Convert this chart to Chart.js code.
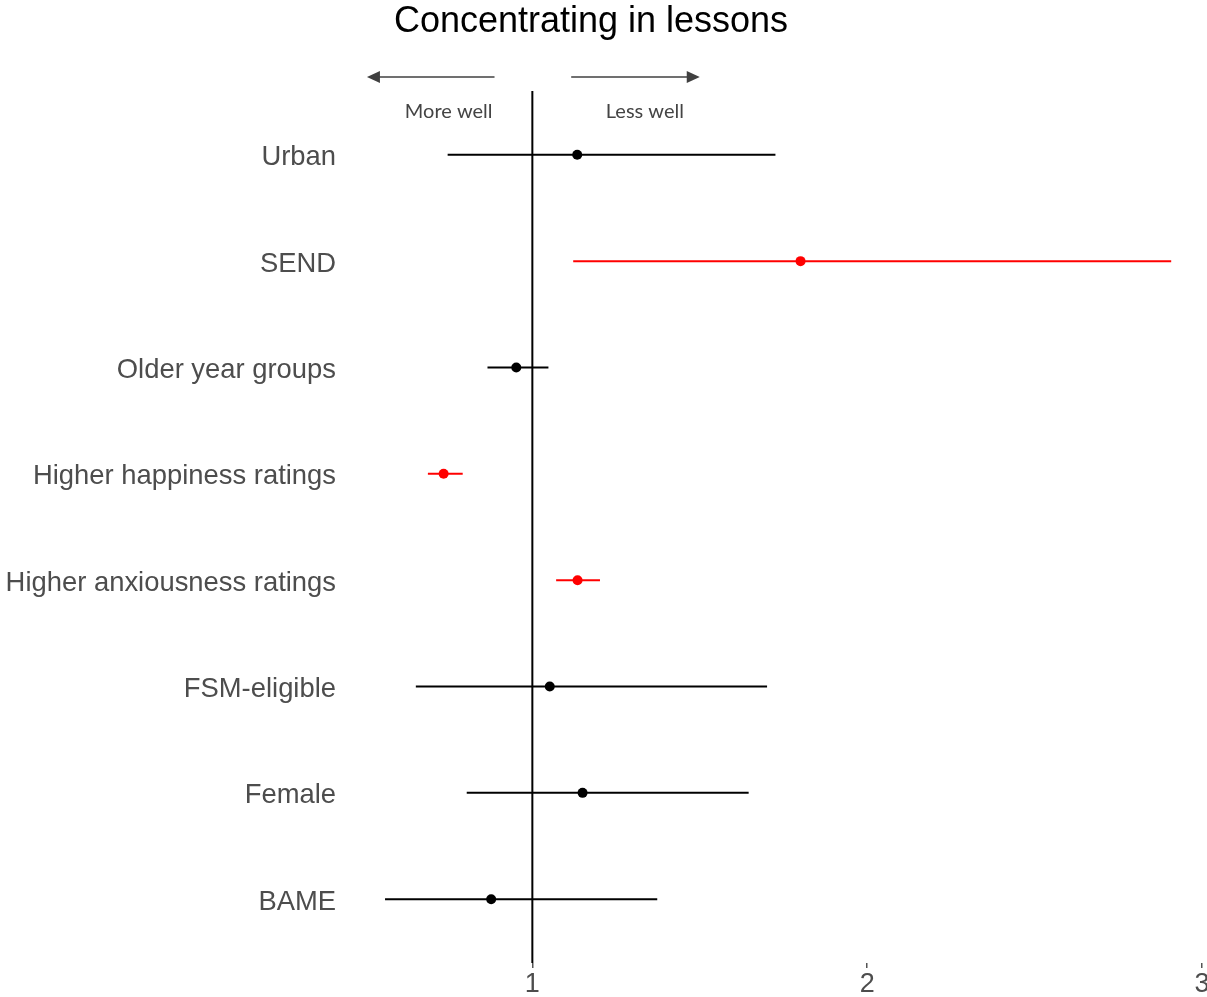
<!DOCTYPE html>
<html>
<head>
<meta charset="utf-8">
<script src="https://cdn.jsdelivr.net/npm/chart.js@4"></script>
<style>
  html, body { margin: 0; padding: 0; background: #fff; overflow: hidden; }
  canvas { display: block; }
</style>
</head>
<body>
<canvas id="chart" width="1207" height="997"></canvas>
<script>
// forest plot — odds ratios with confidence intervals

const rows = ['Urban', 'SEND', 'Older year groups', 'Higher happiness ratings',
  'Higher anxiousness ratings', 'FSM-eligible', 'Female', 'BAME'];
const estimate = [1.134, 1.801, 0.952, 0.735, 1.135, 1.052, 1.150, 0.877];
const lower    = [0.747, 1.122, 0.866, 0.688, 1.071, 0.652, 0.804, 0.560];
const upper    = [1.726, 2.908, 1.048, 0.792, 1.202, 1.701, 1.646, 1.373];
const significant = [false, true, false, true, true, false, false, false];
const xTicks = [1, 2, 3];
const refValue = 1;

// arrow annotations (in x-axis units)
const leftArrow = [0.887, 0.506];
const rightArrow = [1.116, 1.500];
const arrowLabels = [{ text: 'More well', x: 0.75 }, { text: 'Less well', x: 1.336 }];

const RED = '#f00';
const colorOf = i => significant[i] ? RED : '#000';

const datasets = [];
// reference line at 1
datasets.push({
  data: [{ x: refValue, y: 0.4 }, { x: refValue, y: 8.6 }],
  showLine: true, borderColor: '#000', borderWidth: 2, pointRadius: 0,
});
// CI bars
rows.forEach((r, i) => {
  datasets.push({
    data: [{ x: lower[i], y: i + 1 }, { x: upper[i], y: i + 1 }],
    showLine: true, borderColor: colorOf(i), borderWidth: 2, pointRadius: 0,
  });
});
// point estimates
datasets.push({
  data: estimate.map((v, i) => ({ x: v, y: i + 1 })),
  pointRadius: 5, pointBackgroundColor: rows.map((r, i) => colorOf(i)),
  pointBorderWidth: 0, showLine: false,
});

const annotations = {
  id: 'annotations',
  afterDraw(chart) {
    const ctx = chart.ctx;
    const xs = chart.scales.x;
    ctx.save();
    // title
    ctx.fillStyle = '#000';
    ctx.font = '36px "Liberation Sans", Arial, sans-serif';
    ctx.textAlign = 'center';
    ctx.textBaseline = 'middle';
    ctx.fillText('Concentrating in lessons', 591, 22);

    // arrows
    const y = 77;
    ctx.strokeStyle = '#404040';
    ctx.fillStyle = '#404040';
    ctx.lineWidth = 1.5;
    for (const [from, to] of [leftArrow, rightArrow]) {
      const x0 = xs.getPixelForValue(from);
      const x1 = xs.getPixelForValue(to);
      const dir = Math.sign(x1 - x0);
      ctx.beginPath();
      ctx.moveTo(x0, y);
      ctx.lineTo(x1 - dir * 10, y);
      ctx.stroke();
      ctx.beginPath();
      ctx.moveTo(x1, y);
      ctx.lineTo(x1 - dir * 13, y - 6);
      ctx.lineTo(x1 - dir * 13, y + 6);
      ctx.closePath();
      ctx.fill();
    }
    ctx.font = '20px Lato, "Open Sans", sans-serif';
    ctx.fillStyle = '#444';
    for (const a of arrowLabels) {
      ctx.fillText(a.text, xs.getPixelForValue(a.x), 112);
    }
    ctx.restore();
  }
};

new Chart(document.getElementById('chart'), {
  type: 'scatter',
  data: { datasets },
  options: {
    responsive: false,
    animation: false,
    devicePixelRatio: 1,
    layout: { padding: { top: 91, right: 3, bottom: 0, left: 0 } },
    plugins: { legend: { display: false }, tooltip: { enabled: false }, title: { display: false } },
    scales: {
      x: {
        type: 'linear', min: 0.4494, max: 3,
        afterBuildTicks: s => { s.ticks = xTicks.map(v => ({ value: v })); },
        afterFit: s => { s.height = 34; s.paddingLeft = 0; s.paddingRight = 0; },
        ticks: {
          font: { family: '"Liberation Sans", Arial, sans-serif', size: 27 },
          color: '#4d4d4d', padding: 0, maxRotation: 0, autoSkip: false,
        },
        grid: { display: true, drawOnChartArea: false, tickLength: 5, color: '#555', lineWidth: 1.5 },
        border: { display: false },
      },
      y: {
        type: 'linear', reverse: true, min: 0.4, max: 8.6,
        afterBuildTicks: s => { s.ticks = rows.map((r, i) => ({ value: i + 1 })); },
        afterFit: s => { s.width = 348; s.paddingTop = 0; s.paddingBottom = 0; },
        ticks: {
          callback: v => rows[v - 1],
          font: { family: '"Liberation Sans", Arial, sans-serif', size: 27.4 },
          color: '#4d4d4d', padding: 4, labelOffset: 3, autoSkip: false,
        },
        grid: { display: false },
        border: { display: false },
      },
    },
  },
  plugins: [annotations],
});
</script>
</body>
</html>
